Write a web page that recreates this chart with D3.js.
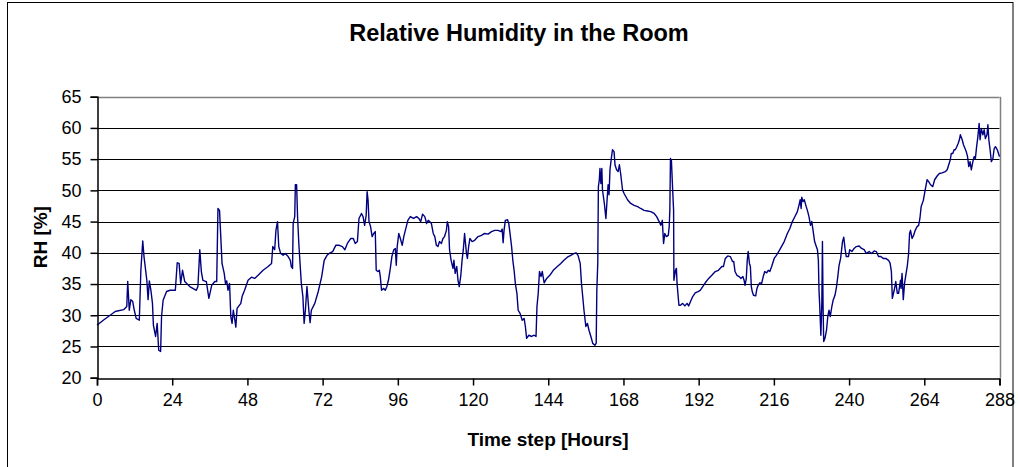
<!DOCTYPE html>
<html><head><meta charset="utf-8">
<script src="https://cdn.jsdelivr.net/npm/d3@7"></script>
<style>html,body{margin:0;padding:0;background:#fff;}svg{display:block;font-family:"Liberation Sans",Arial,sans-serif;}</style>
</head><body>
<svg id="chart" width="1020" height="467"></svg>
<script>
const hours = [0,2,4.2,5.8,8.5,9.5,9.8,10.3,10.8,11.4,11.9,12.5,13.5,14,14.6,15,15.9,16.3,16.7,17.2,17.7,18,18.7,19.2,19.7,20.3,20.6,21.1,22.2,23.3,25,25.6,26.2,26.7,27.3,28,29.6,31.7,32.2,32.8,33.3,33.8,34.9,35.7,
36.6,37.6,38.2,38.6,39.1,39.4,39.9,40.6,41,41.4,41.8,42.3,42.7,43.1,43.5,44,44.3,44.7,45.9,46.3,47.1,48.2,49.3,50.3,51.4,53,54.6,55.7,56.1,56.7,57.1,57.6,58,58.6,59.4,60.1,61,61.7,62,62.4,62.6,63.1,63.3,63.7,64,64.4,64.8,65.2,65.7,66.1,66.5,67,67.6,68,68.4,69.5,70.6,71.7,72.5,
73.4,74.1,75.2,76.2,77.3,78.3,79.1,79.9,81,81.8,82.4,83.1,83.6,84.4,84.9,85.4,85.9,86.2,86.5,86.8,87.3,87.8,88.3,88.8,89.1,89.6,90.1,90.4,90.8,91.5,92,92.5,93,93.6,94.1,94.7,95.2,95.5,95.8,96.3,96.8,97.4,97.9,98.4,99.2,100,101,102,102.7,103.3,103.9,104.6,105.2,105.7,106.2,106.7,107.3,107.8,108.3,
108.8,109.3,109.9,110.4,110.9,111.5,111.8,112.2,112.5,113,113.6,113.9,114.3,114.8,115.2,115.6,116.1,116.5,116.9,117.3,117.9,118.2,118.6,119,119.7,120.5,121.6,122.7,123.7,124.8,125.9,126.9,128,128.9,129.3,129.6,129.9,130.3,131,131.4,131.8,132.3,132.7,133.1,133.5,134,134.4,135,135.7,136.3,136.7,137.1,137.8,138.7,139.5,140.1,140.4,140.8,141.2,141.7,142.1,142.7,143.5,144.5,145.6,
146.9,148,149,150.1,151.2,152.3,152.9,153.5,154.2,154.6,155,155.4,156,156.5,157,157.6,158.2,158.9,159.3,159.5,159.8,160,160.3,160.5,160.8,161.1,161.3,161.9,162.4,162.7,163.1,163.4,163.7,164.2,164.5,165,165.3,165.8,166.3,166.7,167.1,167.7,168.2,169.3,170.3,171.4,172.5,173.5,174.6,175.7,176.7,177.8,178.6,179.4,179.9,180.4,180.8,181.2,181.7,182.3,182.6,
182.8,183,183.3,183.7,184,184.1,184.6,184.9,185.1,185.7,186.2,186.9,187.6,188.3,188.8,189.4,190.1,190.9,191.8,192.5,193.3,194.1,195.2,196.2,197.3,198.3,199.4,199.9,200.5,201.3,202.1,202.8,203.2,203.6,204.2,204.9,205.5,206.1,206.5,206.8,207.2,207.5,207.8,208.2,208.5,208.8,209.1,209.5,210.2,210.6,211,211.6,212.1,212.6,213.1,213.7,214.2,214.7,215.3,216.1,216.8,217.9,219.3,
220.3,221.1,221.9,222.8,223.5,224,224.4,224.7,224.9,225.3,225.7,226.2,226.8,227.2,227.7,228.1,228.5,229,229.4,229.9,230.2,230.4,230.6,231,231.3,231.5,231.7,231.9,232.3,232.8,233.2,233.6,234,234.5,234.9,235.5,236,236.4,236.8,237.3,237.9,238.3,238.7,239.1,239.8,240.2,240.9,241.6,242.3,243.2,244,244.8,245.5,246.4,247.2,248,248.7,249.4,250.1,250.9,251.7,252.6,253.1,253.5,253.8,254.4,254.9,255.4,
255.8,256.4,256.6,256.9,257.3,257.7,258.1,258.6,259,259.3,259.6,260.1,260.6,261.1,261.7,262.2,262.6,263,263.7,264.3,264.9,265.4,266,266.7,267.3,268.1,268.8,269.7,270.7,271.3,271.8,272.3,272.6,273.1,273.5,273.9,274.3,274.8,275.2,275.5,276.1,276.5,277,277.4,277.8,278.2,278.6,279,279.5,279.9,280.3,280.7,281.1,281.5,281.8,282.2,282.7,283.1,283.5,284,284.3,284.6,285,285.4,285.9,286.3,286.7,287.3,287.8,288];
const rh = [28.4,29.2,30.0,30.6,30.9,31.4,35.4,30.8,32.5,32.2,30.8,29.5,29.2,37.2,41.9,39.4,35.6,32.5,35.5,34.0,31.9,28.4,26.6,28.7,24.4,24.2,29.8,32.4,33.8,34.0,34.0,38.4,38.3,35.1,37.2,35.4,34.6,34.0,34.6,40.5,37.0,35.6,35.4,32.7,
34.8,35.4,35.4,47.1,46.8,43.6,38.3,36.7,35.1,35.5,34.0,35.1,29.8,28.7,30.8,29.2,28.1,31.1,31.9,33.0,34.0,35.6,36.1,35.9,36.4,37.2,37.8,38.3,41.0,40.5,43.6,45.0,41.0,39.9,39.6,39.9,39.4,38.8,37.8,37.5,44.7,45.8,50.9,50.9,45.8,41.5,38.3,35.1,33.0,28.7,30.8,34.6,30.8,28.8,30.8,31.9,33.8,36.2,38.8,
39.6,39.9,40.2,41.2,41.2,41.0,40.5,41.5,42.3,42.3,41.5,41.8,45.5,46.3,45.8,44.4,46.0,49.8,48.4,45.0,44.2,42.6,43.1,43.4,37.2,37.0,37.2,36.2,34.0,34.3,34.0,34.6,35.6,37.5,39.4,40.5,40.7,38.0,41.0,43.1,42.3,41.2,42.6,43.6,45.2,45.8,45.5,45.8,45.5,45.0,46.2,45.8,44.7,45.2,45.0,44.7,43.1,42.6,41.2,
41.0,41.8,41.5,42.3,42.6,43.6,45.0,44.2,40.5,38.8,37.5,38.8,36.7,37.8,35.6,34.6,36.4,38.8,40.5,43.1,39.9,39.1,41.0,42.3,41.8,42.0,42.6,42.8,43.1,43.0,43.4,43.6,43.6,43.4,43.8,41.6,43.6,45.2,45.3,44.7,43.1,41.0,38.8,37.2,35.1,33.5,30.8,30.3,29.2,29.5,28.2,26.3,26.8,26.6,26.8,26.6,31.4,33.5,37.0,36.2,37.0,35.2,35.9,36.4,37.2,
37.8,38.3,38.8,39.3,39.6,39.9,40.0,39.6,38.3,35.1,33.0,30.8,28.2,28.7,27.6,26.6,25.5,25.2,25.5,34.0,38.3,50.6,51.7,53.5,51.1,53.5,50.1,47.9,45.5,47.9,50.9,49.3,53.3,55.4,56.5,56.2,54.1,53.3,53.0,54.1,52.7,50.1,49.5,48.5,47.9,47.6,47.4,47.1,46.8,46.7,46.6,46.3,45.8,45.0,44.4,45.2,41.5,43.1,42.6,42.8,44.2,
46.8,55.1,54.8,50.1,46.8,35.6,37.2,37.5,35.1,31.6,31.6,31.9,31.5,31.9,31.5,32.2,33.0,33.6,33.8,34.0,34.6,35.2,35.9,36.4,37.0,37.2,37.8,37.8,39.1,39.5,39.4,38.6,38.6,37.0,36.4,36.2,35.9,36.2,35.6,34.8,35.9,38.8,40.2,38.3,37.8,34.6,33.8,33.2,33.1,34.3,34.8,35.2,35.1,36.2,37.0,36.8,37.2,37.0,37.8,39.1,39.6,40.5,41.8,
43.1,43.9,45.0,45.9,46.6,47.6,48.5,47.1,48.9,48.2,48.5,47.6,46.6,45.8,44.4,45.0,43.6,41.8,41.2,40.5,38.8,34.0,31.9,26.8,31.9,41.8,31.4,25.8,26.3,27.6,29.8,30.8,29.8,31.4,32.4,33.2,34.6,36.2,38.0,39.1,41.8,42.5,40.7,39.4,39.4,40.5,40.2,40.7,41.0,41.1,40.7,40.5,39.9,40.2,39.9,40.3,40.2,39.4,39.4,39.1,39.1,38.8,38.3,37.0,32.7,34.0,35.4,33.5,
33.5,35.6,34.3,36.7,32.5,35.1,36.4,38.0,39.9,43.1,43.6,42.3,42.8,43.6,44.2,44.4,45.5,47.4,48.4,50.1,51.7,51.4,50.9,50.6,51.7,52.3,52.7,52.8,53.0,53.3,54.1,54.9,55.9,55.9,56.5,56.5,56.9,57.5,58.1,58.9,58.1,57.3,56.7,56.2,55.4,53.8,54.6,53.3,54.6,55.4,55.1,57.0,58.6,60.7,58.1,59.9,58.9,59.7,58.3,58.9,60.5,58.1,56.5,54.6,55.1,56.7,57.0,56.5,55.7,55.4];
const xTicks = [0,24,48,72,96,120,144,168,192,216,240,264,288];
const yTicks = [20,25,30,35,40,45,50,55,60,65];
const title = "Relative Humidity in the Room";
const xTitle = "Time step [Hours]";
const yTitle = "RH [%]";

const svg = d3.select("#chart");
const L = 97, R = 999.5, T = 96.7, B = 377.7;
const x = d3.scaleLinear().domain([0,288]).range([L,R]);
const y = d3.scaleLinear().domain([20,65]).range([B,T]);

// outer frame
svg.append("rect").attr("x",7.5).attr("y",2.5).attr("width",1005.5).attr("height",480)
  .attr("fill","#fff").attr("stroke","#000").attr("stroke-width",1);

// gridlines
svg.append("g").selectAll("line").data(yTicks.filter(v=>v>20 && v<65)).join("line")
  .attr("x1",L).attr("x2",R).attr("y1",d=>Math.round(y(d))+0.5).attr("y2",d=>Math.round(y(d))+0.5)
  .attr("stroke","#000").attr("stroke-width",1);

// plot frame (gray top/right)
svg.append("line").attr("x1",L).attr("x2",R).attr("y1",Math.round(T)+0.5).attr("y2",Math.round(T)+0.5).attr("stroke","#808080").attr("stroke-width",1.5);
svg.append("line").attr("x1",Math.round(R)+0.5).attr("x2",Math.round(R)+0.5).attr("y1",T).attr("y2",B).attr("stroke","#808080").attr("stroke-width",1.5);

// line
const line = d3.line().x((d,i)=>x(hours[i])).y(d=>y(d));
svg.append("path").datum(rh).attr("d",line).attr("fill","none")
  .attr("stroke","#000080").attr("stroke-width",1.4).attr("stroke-linejoin","round");

// axes
const xAxis = d3.axisBottom(x).tickValues(xTicks).tickSize(7).tickPadding(8).tickFormat(d3.format("d"));
const gx = svg.append("g").attr("transform",`translate(0,${Math.round(B)+0.5})`).call(xAxis);
gx.select(".domain").attr("stroke","#000").attr("stroke-width",1.5);
gx.selectAll(".tick line").attr("stroke","#000").attr("stroke-width",1.5);
gx.selectAll("text").attr("font-size","18px").attr("fill","#000").attr("font-family","Liberation Sans, Arial, sans-serif");

const yAxis = d3.axisLeft(y).tickValues(yTicks).tickSize(7).tickPadding(9).tickFormat(d3.format("d"));
const gy = svg.append("g").attr("transform",`translate(${L+0.5},0)`).call(yAxis);
gy.select(".domain").attr("stroke","#000").attr("stroke-width",1.5);
gy.selectAll(".tick line").attr("stroke","#000").attr("stroke-width",1.5);
gy.selectAll("text").attr("font-size","18px").attr("fill","#000").attr("font-family","Liberation Sans, Arial, sans-serif");

// titles
svg.append("text").attr("x",519).attr("y",41).attr("text-anchor","middle")
  .attr("font-size","23.5px").attr("font-weight","bold").text(title);
svg.append("text").attr("x",548).attr("y",446).attr("text-anchor","middle")
  .attr("font-size","19px").attr("font-weight","bold").text(xTitle);
svg.append("text").attr("transform",`translate(47,${(T+B)/2}) rotate(-90)`).attr("text-anchor","middle")
  .attr("font-size","19px").attr("font-weight","bold").text(yTitle);
</script>
</body></html>
